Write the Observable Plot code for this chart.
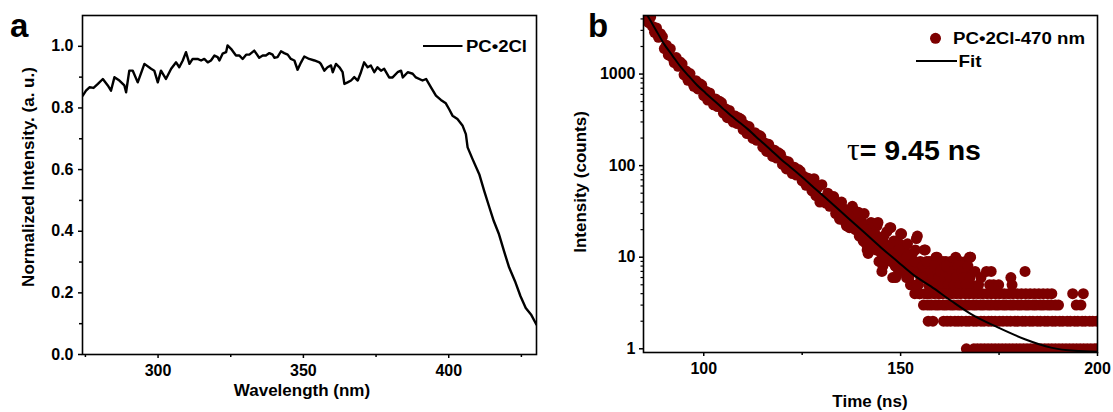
<!DOCTYPE html>
<html><head><meta charset="utf-8">
<script src="https://cdn.jsdelivr.net/npm/d3@7"></script>
<script src="https://cdn.jsdelivr.net/npm/@observablehq/plot@0.6"></script>
<style>
body{margin:0;background:#fff;}
#wrap{display:flex;width:1113px;height:412px;overflow:hidden;}
svg{display:block;}
</style></head><body><div id="wrap"></div>
<script>
// ---------- Panel a: spectrum ----------
const wavelength = [274.1,275.2,276.4,277.8,279.3,281.0,282.7,283.8,285.0,286.7,288.4,289.0,290.1,291.3,293.0,295.3,297.6,298.7,299.9,301.0,302.7,304.5,306.2,307.3,308.5,309.6,310.8,311.9,313.6,314.8,315.9,317.1,318.2,319.4,320.5,321.1,322.2,323.4,323.9,325.1,326.8,328.0,329.1,330.3,331.4,333.1,334.8,336.0,337.1,338.3,339.4,340.0,341.1,342.3,343.4,344.6,345.7,346.9,348.0,349.2,350.3,352.0,353.8,355.5,356.0,357.2,358.3,359.5,360.1,361.2,362.4,363.5,364.1,365.2,366.4,367.5,368.7,369.8,370.9,372.1,373.2,374.4,375.5,376.7,377.8,379.5,380.7,382.4,383.6,384.2,385.9,387.6,388.7,391.0,392.2,393.9,395.6,397.3,399.0,400.2,401.3,403.0,404.8,405.9,406.5,408.2,410.5,412.2,414.0,415.5,417.3,419.0,420.8,422.8,424.7,426.5,428.3,430.2];
const normIntensity = [0.840,0.856,0.867,0.865,0.878,0.894,0.873,0.856,0.900,0.889,0.873,0.851,0.921,0.921,0.883,0.943,0.927,0.921,0.883,0.921,0.894,0.927,0.948,0.932,0.954,0.981,0.943,0.959,0.959,0.954,0.959,0.948,0.954,0.970,0.965,0.954,0.976,0.981,1.003,0.992,0.970,0.970,0.959,0.973,0.973,0.986,0.963,0.970,0.970,0.978,0.973,0.963,0.965,0.984,0.978,0.973,0.959,0.954,0.924,0.948,0.967,0.959,0.954,0.948,0.943,0.921,0.932,0.938,0.916,0.943,0.932,0.916,0.878,0.883,0.889,0.900,0.889,0.916,0.948,0.932,0.938,0.916,0.932,0.921,0.927,0.899,0.899,0.916,0.921,0.899,0.916,0.911,0.899,0.889,0.894,0.867,0.840,0.826,0.815,0.795,0.775,0.764,0.742,0.715,0.672,0.634,0.585,0.531,0.477,0.433,0.390,0.336,0.282,0.238,0.189,0.151,0.130,0.097];
const waveTicks = [300, 350, 400];
const waveMinorTicks = [275, 325, 375, 425];
const normTicks = [0, 0.2, 0.4, 0.6, 0.8, 1.0];
const normMinorTicks = [0.1, 0.3, 0.5, 0.7, 0.9];

// ---------- Panel b: PL decay ----------
const decayTimeEarly = [84.5,85.0,85.5,86.0,86.5,87.0,87.5,88.0,88.5,89.0,89.5,90.0,90.5,91.0,91.5,92.0,92.5,93.0,93.5,94.0,94.5,95.0,95.5,96.0,96.5,97.0,97.5,98.0,98.5,99.0,99.5,100.0,100.5,101.0,101.5,102.0,102.5,103.0,103.5,104.0,104.5,105.0,105.5,106.0,106.5,107.0,107.5,108.0,108.5,109.0,109.5,110.0,110.5,111.0,111.5,112.0,112.5,113.0,113.5,114.0,114.5,115.0,115.5,116.0,116.5,117.0,117.5,118.0,118.5,119.0,119.5,120.0,120.5,121.0,121.5,122.0,122.5,123.0,123.5,124.0,124.5,125.0,125.5,126.0,126.5,127.0,127.5,128.0,128.5,129.0,129.5,130.0,130.5,131.0,131.5,132.0,132.5,133.0,133.5,134.0,134.5,135.0];
const decayCountsEarly = [5880,4365,4715,3643,4180,3316,2857,3186,2520,2764,2565,1899,2069,1619,1892,1520,1335,1512,1214,1354,1288,981,1082,856,1012,827,735,845,689,786,759,582,650,521,623,514,461,535,441,504,487,374,418,334,400,332,299,348,288,331,320,248,277,224,267,220,198,229,189,215,207,159,177,143,171,141,126,147,121,138,133,103,114,92,110,91,82,96,79,91,87,68,76,61,73,60,53,72,47,58,40,62,44,39,50,36,45,46,30,37,26,40];
const decayTimeMidA = [135.5,136.0,136.5,137.0,137.5,138.0,138.5,139.0,139.5,140.0,140.5,141.0,141.5,142.0,142.5,143.0,143.5,144.0,144.5,145.0,145.5,146.0,146.5,147.0,147.5,148.0,148.5,149.0,149.5,150.0,150.5,151.0,151.5,152.0,152.5,153.0,153.5,154.0,154.5,155.0,155.5,156.0,156.5,157.0,157.5,158.0,158.5,159.0,159.5,160.0,160.5,161.0,161.5,162.0,162.5,163.0,163.5,164.0,164.5,165.0,165.5,166.0,166.5,167.0,167.5,168.0];
const decayCountsMidA = [34,24,30,21,29,33,20,26,17,28,15,22,12,19,24,13,18,22,9,16,8,14,19,11,21,6,12,15,7,18,10,13,6,9,5,11,8,16,5,9,7,12,4,8,6,9,5,10,7,4,8,6,9,5,7,9,6,10,5,9,7,5,9,6,10,5];
const decayTimeMidB = [135.25,135.75,136.25,136.75,137.25,137.75,138.25,138.75,139.25,139.75,140.25,140.75,141.25,141.75,142.25,142.75,143.25,143.75,144.25,144.75,145.25,145.75,146.25,146.75,147.25,147.75,148.25,148.75,149.25,149.75,150.25,150.75,151.25,151.75,152.25,152.75,153.25,153.75,154.25,154.75,155.25,155.75,156.25,156.75,157.25,157.75,158.25,158.75,159.25,159.75,160.25,160.75,161.25,161.75,162.25,162.75,163.25,163.75,164.25,164.75,165.25,165.75,166.25,166.75,167.25,167.75];
const decayCountsMidB = [27,31,22,32,25,36,27,23,31,19,24,30,14,11,21,16,23,12,24,15,7,17,10,13,21,9,15,6,11,14,18,8,11,14,7,5,9,12,17,4,8,6,12,7,9,5,8,6,10,5,7,9,5,8,6,9,5,8,6,9,5,8,6,7,5,10];
const decayTimeMidC = [140.1,140.6,141.1,141.6,142.1,142.6,143.1,143.6,144.1,144.6,145.1,145.6,146.1,146.6,147.1,147.6,148.1,148.6,149.1,149.6,150.1,150.6,151.1,151.6,152.1,152.6,153.1,153.6,154.1,154.6,155.1,155.6,156.1,156.6,157.1,157.6,158.1,158.6,159.1,159.6,160.1,160.6,161.1,161.6,162.1,162.6,163.1,163.6,164.1,164.6,165.1,165.6,166.1,166.6,167.1,167.6];
const decayCountsMidC = [17,22,20,15,18,13,17,16,12,15,11,14,10,13,12,9,11,8,10,12,7,9,8,10,6,8,7,9,5,7,6,8,6,9,5,7,6,8,5,6,7,5,6,8,5,6,7,5,6,8,5,7,6,5,8,6];
const row1Time = [166.7,168.6,169.5,170.4,171.3,172.2,173.1,174.0,174.9,175.8,176.7,177.6,178.5,179.4,180.3,181.2,182.1,183.0,183.9,184.8,185.7,186.6,187.5,188.4,189.3,190.2,191.1,192.0,192.9,193.8,194.7,195.6,196.5,197.4,198.3,199.2,200.0];
const row2Time = [157.0,158.2,160.9,161.8,162.7,163.8,164.6,165.5,166.6,167.4,168.5,169.3,170.4,171.2,172.3,173.1,174.0,175.1,176.0,177.0,177.9,179.0,179.8,180.9,181.7,182.8,183.6,184.7,185.5,186.6,187.4,188.5,189.3,190.4,191.2,192.3,193.1,194.2,195.0,196.1,196.9,198.0,198.8,199.8];
const row3Time = [155.8,156.9,157.8,158.9,159.7,160.8,161.6,162.7,163.5,164.6,165.4,166.5,167.3,168.4,169.2,170.3,171.1,172.2,173.0,174.1,174.9,176.0,176.8,177.9,178.7,179.8,180.6,181.7,182.5,183.6,184.4,185.5,186.3,187.4,188.2,189.3,190.1,194.6,195.8];
const row4Time = [153.6,154.9,156.2,157.3,158.5,159.6,160.7,161.9,163.0,164.1,165.2,166.4,167.5,168.6,169.7,170.8,171.9,173.0,174.1,175.2,176.3,177.4,178.5,179.6,180.7,181.8,182.9,184.0,185.1,186.2,187.3,188.4,193.7,196.4];
const lateUpperTime = [167.7,168.9,169.8,170.4,171.8,172.6,173.0,173.6,174.9,178.0,178.3,181.6];
const lateUpperCounts = [10,7,5,6,7,5,7,5,5,6,5,7];
const fitTime = [84.5,85.7,87.8,89.9,92.0,94.2,96.3,98.4,100.5,102.6,104.7,106.9,109.0,111.1,113.2,115.3,117.5,119.6,121.7,123.8,125.9,128.0,132.2,136.5,140.8,145.0,149.2,153.5,157.7,162.8,167.9,174.7,181.4,188.2,194.2,200.0];
const fitCounts = [5250,4357,3055,2138,1603,1187,942,749,619,513,427,352,298,252,208,173,142,117.5,98.9,83.2,69.2,57.5,39.8,27.2,18.6,12.8,9.0,6.3,4.8,3.35,2.39,1.71,1.28,1.03,0.95,0.93];
const countTicks = [1, 10, 100, 1000];
const countMinorTicks = [2,3,4,5,6,7,8,9,20,30,40,50,60,70,80,90,200,300,400,500,600,700,800,900,2000,3000,4000];
const timeTicks = [100, 150, 200];
const timeMinorTicks = [125, 175];

// ---------- build tables ----------
const spectrum = wavelength.map((w, i) => ({w, v: normIntensity[i]}));
const pairs = (ts, cs) => ts.map((t, i) => ({t, c: cs[i]}));
const rowPairs = (ts, level) => ts.map(t => ({t, c: level}));
const scatter = [
  ...pairs(decayTimeEarly, decayCountsEarly),
  ...pairs(decayTimeMidA, decayCountsMidA),
  ...pairs(decayTimeMidB, decayCountsMidB),
  ...pairs(decayTimeMidC, decayCountsMidC),
  ...rowPairs(row1Time, 1), ...rowPairs(row2Time, 2),
  ...rowPairs(row3Time, 3), ...rowPairs(row4Time, 4),
  ...pairs(lateUpperTime, lateUpperCounts)
];
const fit = pairs(fitTime, fitCounts);

const FONT = "Liberation Sans, Arial, Helvetica, sans-serif";
const baseStyle = {fontFamily: FONT, fontSize: "16px", fontWeight: "bold", color: "#000", background: "#fff", overflow: "visible"};
const blank = () => "";

const plotA = Plot.plot({
  width: 560, height: 412,
  marginLeft: 82, marginRight: 24, marginTop: 15, marginBottom: 58,
  style: baseStyle,
  x: {domain: [274, 430.2]},
  y: {domain: [0, 1.1]},
  marks: [
    Plot.axisX({ticks: waveTicks, tickSize: 4, tickPadding: 6, fontSize: 16, fontWeight: "bold", label: null, strokeWidth: 1.5}),
    Plot.axisX({ticks: waveMinorTicks, tickSize: 3, tickFormat: blank, label: null, strokeWidth: 1.5}),
    Plot.axisY({ticks: normTicks, tickSize: 4, tickPadding: 5, tickFormat: d3.format(".1f"), fontSize: 16, fontWeight: "bold", label: null, strokeWidth: 1.5}),
    Plot.axisY({ticks: normMinorTicks, tickSize: 3, tickFormat: blank, label: null, strokeWidth: 1.5}),
    Plot.line(spectrum, {x: "w", y: "v", stroke: "#000", strokeWidth: 2.4, clip: true}),
    Plot.frame({stroke: "#000", strokeWidth: 1.6})
  ]
});

const plotB = Plot.plot({
  width: 553, height: 412,
  marginLeft: 83, marginRight: 16, marginTop: 15, marginBottom: 60,
  style: baseStyle,
  x: {domain: [84.7, 200]},
  y: {type: "log", domain: [0.911, 4360]},
  marks: [
    Plot.axisX({ticks: timeTicks, tickSize: 4, tickPadding: 6, fontSize: 16, fontWeight: "bold", label: null, strokeWidth: 1.5}),
    Plot.axisX({ticks: timeMinorTicks, tickSize: 3, tickFormat: blank, label: null, strokeWidth: 1.5}),
    Plot.axisY({ticks: countTicks, tickSize: 4, tickPadding: 4, tickFormat: d3.format("d"), fontSize: 16, fontWeight: "bold", label: null, strokeWidth: 1.5}),
    Plot.axisY({ticks: countMinorTicks, tickSize: 2.5, tickFormat: blank, label: null, strokeWidth: 1.2}),
    Plot.dot(scatter, {x: "t", y: "c", r: 5.5, fill: "#7d0000", stroke: "none", clip: true}),
    Plot.line(fit, {x: "t", y: "c", stroke: "#000", strokeWidth: 2, curve: "monotone-x", clip: true}),
    Plot.frame({stroke: "#000", strokeWidth: 1.6})
  ]
});

document.getElementById("wrap").append(plotA, plotB);

// ---------- annotations (titles, legends, panel letters) ----------
function addText(svg, x, y, str, size, opts = {}) {
  const t = d3.select(svg).append("text")
    .attr("x", x).attr("y", y)
    .attr("font-family", FONT).attr("font-weight", "bold")
    .attr("font-size", size).attr("fill", "#000")
    .attr("text-anchor", opts.anchor || "start");
  if (opts.rotate) t.attr("transform", `rotate(${opts.rotate},${x},${y})`).attr("dominant-baseline", "central");
  if (opts.len) t.attr("textLength", opts.len).attr("lengthAdjust", "spacingAndGlyphs");
  t.text(str);
  return t;
}
// panel a
addText(plotA, 10, 36.5, "a", 33);
addText(plotA, 302, 396, "Wavelength (nm)", 17, {anchor: "middle"});
addText(plotA, 28.5, 177, "Normalized Intensity. (a. u.)", 17, {anchor: "middle", rotate: -90});
d3.select(plotA).append("line").attr("x1", 423).attr("x2", 462.5).attr("y1", 46).attr("y2", 46)
  .attr("stroke", "#000").attr("stroke-width", 2);
addText(plotA, 466, 51.5, "PC\u20222Cl", 16, {len: 61});
// panel b
addText(plotB, 28, 36.5, "b", 33);
addText(plotB, 310, 407, "Time (ns)", 17, {anchor: "middle"});
addText(plotB, 20, 182, "Intensity (counts)", 17, {anchor: "middle", rotate: -90});
d3.select(plotB).append("circle").attr("cx", 375.5).attr("cy", 38.3).attr("r", 5.5).attr("fill", "#7d0000");
addText(plotB, 393, 43.8, "PC\u20222Cl-470 nm", 16, {len: 132});
d3.select(plotB).append("line").attr("x1", 356).attr("x2", 397).attr("y1", 61).attr("y2", 61)
  .attr("stroke", "#000").attr("stroke-width", 2);
addText(plotB, 398.5, 66.5, "Fit", 17, {len: 23});
const tau = addText(plotB, 287, 160, "", 28, {len: 134});
tau.append("tspan").attr("font-family", "Liberation Serif, Times New Roman, serif").attr("font-weight", "normal").attr("font-size", 31).text("\u03c4");
tau.append("tspan").text("= 9.45 ns");
</script></body></html>
